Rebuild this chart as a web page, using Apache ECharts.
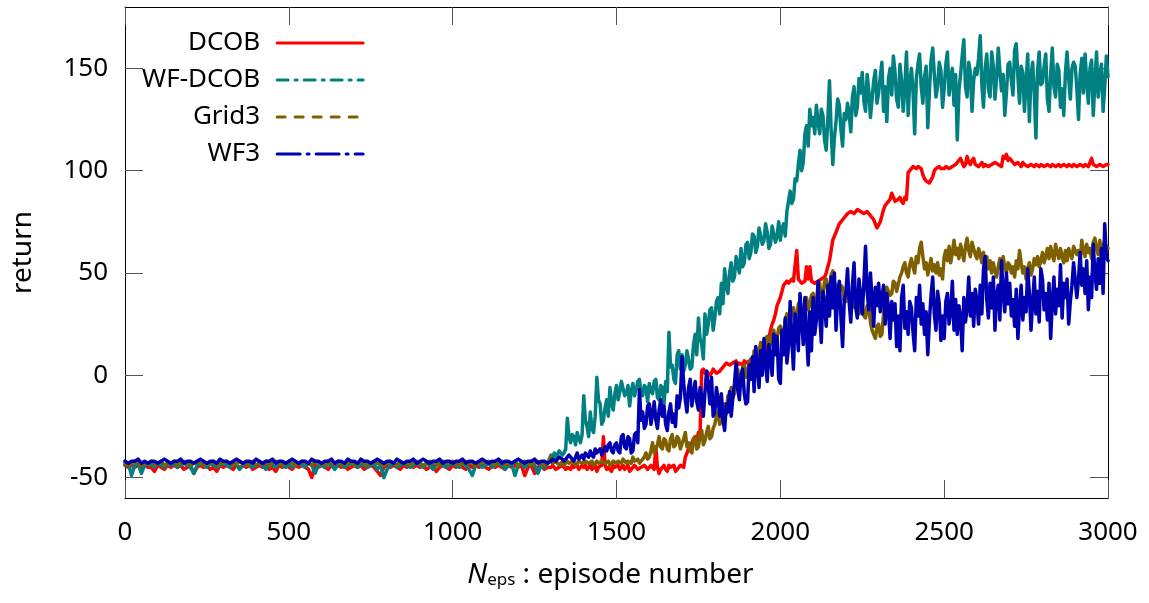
<!DOCTYPE html>
<html>
<head>
<meta charset="utf-8">
<script src="https://cdn.jsdelivr.net/npm/echarts@6/dist/echarts.min.js"></script>
<style>
  html, body { margin: 0; padding: 0; background: #fff; }
  #chart { width: 1149px; height: 603px; }
</style>
</head>
<body>
<div id="chart"></div>
<script>
// Sampling of the returns: every 10 episodes up to episode 1290,
// every 5 episodes from episode 1300 to 3000.
const EARLY_STEP = 10;
const LATE_START = 1300;
const LATE_STEP = 5;

const X_TICKS = [0, 500, 1000, 1500, 2000, 2500, 3000];
const Y_TICKS = [-50, 0, 50, 100, 150];

const SERIES_NAMES = ['DCOB', 'WF-DCOB', 'Grid3', 'WF3'];

// Return per episode, DCOB
const DCOB = [
  // 0 - 1290 (step 10)
  -44,-45,-44,-45,-44,-46,-44,-45,-45,-47,
  -44,-45,-46,-44,-45,-44,-45,-44,-46,-45,
  -44,-48,-45,-44,-45,-44,-46,-45,-47,-44,
  -45,-44,-45,-46,-44,-45,-44,-45,-44,-46,
  -45,-44,-45,-44,-46,-45,-47,-44,-45,-44,
  -45,-46,-44,-45,-44,-45,-46,-50,-44,-45,
  -44,-45,-46,-44,-45,-44,-45,-44,-46,-45,
  -44,-45,-44,-46,-45,-44,-45,-47,-49,-45,
  -44,-45,-44,-45,-46,-44,-45,-44,-45,-44,
  -45,-44,-46,-45,-44,-47,-45,-44,-45,-46,
  -44,-45,-44,-45,-46,-44,-45,-44,-45,-44,
  -45,-46,-44,-45,-44,-45,-46,-44,-45,-44,
  -45,-44,-49,-45,-44,-48,-45,-44,-46,-45,
  // 1300 - 3000 (step 5)
  -45,-44,-44,-46,-46,-45,-45,-44,-44,-46,-45,-45,-46,-44,-45,-45,-44,-46,-45,-44,
  -45,-44,-46,-45,-44,-46,-45,-44,-47,-45,-45,-44,-30,-44,-46,-45,-45,-47,-44,-45,
  -45,-44,-46,-45,-44,-46,-45,-44,-47,-46,-45,-44,-44,-46,-46,-45,-45,-44,-44,-46,
  -46,-44,-45,-46,-35,-45,-48,-46,-45,-44,-46,-47,-44,-45,-45,-44,-47,-46,-45,-44,
  -44,-45,-40,-38,-36,-35,-33,-31,-30,-32,-28,-29,2,3,1,2,2,0,1,3,
  2,1,1,2,3,4,5,6,6,5,5,6,6,7,5,6,6,5,7,6,
  6,7,7,6,2,1,1,2,3,5,8,10,14,18,22,25,27,30,34,36,
  38,41,44,45,46,45,45,47,46,46,61,47,46,45,45,46,53,47,53,46,
  46,45,45,46,46,47,47,48,50,53,56,61,66,68,70,72,74,75,76,77,
  78,79,79,80,80,79,79,81,81,80,80,79,79,80,80,78,78,76,74,72,
  72,75,78,81,83,84,85,86,89,87,85,85,86,87,85,84,87,86,99,100,
  101,102,102,101,102,102,101,98,96,95,95,94,94,97,100,101,101,102,101,101,
  101,102,102,101,101,102,102,103,103,105,106,104,102,103,107,104,103,105,106,103,
  103,102,103,104,102,103,103,102,102,103,103,104,104,103,103,102,107,106,108,105,
  106,105,104,103,103,104,103,102,104,103,103,102,102,103,103,102,103,103,102,103,
  103,102,102,103,103,102,103,103,102,102,103,102,102,103,103,102,103,103,102,103,
  103,102,102,103,103,102,103,103,102,104,106,103,103,102,102,103,103,102,102,103,
  103
];

// Return per episode, WF-DCOB
const WF_DCOB = [
  // 0 - 1290 (step 10)
  -44,-43,-49,-44,-43,-48,-44,-43,-44,-45,
  -43,-44,-45,-43,-44,-43,-45,-44,-43,-44,
  -45,-48,-44,-43,-44,-45,-43,-44,-45,-44,
  -43,-44,-45,-43,-44,-46,-44,-43,-44,-45,
  -44,-43,-44,-46,-43,-44,-45,-43,-44,-45,
  -43,-45,-44,-43,-44,-45,-43,-44,-48,-44,
  -44,-45,-43,-44,-46,-44,-43,-45,-44,-43,
  -44,-45,-43,-44,-45,-44,-43,-46,-44,-50,
  -46,-44,-43,-45,-44,-43,-44,-45,-44,-43,
  -44,-45,-43,-44,-46,-44,-43,-44,-45,-44,
  -43,-44,-45,-43,-44,-46,-49,-44,-43,-45,
  -44,-43,-45,-44,-43,-44,-46,-44,-43,-49,
  -44,-43,-45,-44,-43,-44,-48,-44,-45,-43,
  // 1300 - 3000 (step 5)
  -39,-41,-38,-40,-40,-37,-37,-39,-38,-36,-21,-30,-33,-29,-30,-34,-28,-31,-33,-29,
  -10,-22,-25,-30,-18,-26,-28,-20,-1,-12,-14,-24,-22,-16,-12,-20,-6,-14,-17,-9,
  -5,-12,-8,-3,-3,-10,-9,-5,-15,-8,-4,-10,-7,-3,-2,-9,-10,-5,-6,-13,
  -4,-8,-9,-3,-2,-11,-12,-5,-6,-14,-3,-8,21,4,5,-2,-4,10,12,3,
  10,2,5,12,12,3,4,15,20,10,28,18,15,8,30,20,25,32,33,22,
  28,36,38,30,45,35,52,44,40,50,55,46,48,58,58,50,62,53,55,64,
  65,57,60,69,68,60,63,72,72,64,66,74,70,62,64,73,73,65,68,75,
  66,72,74,68,80,85,90,84,86,96,95,103,110,100,104,118,122,112,130,122,
  126,118,132,124,118,130,127,115,110,125,144,120,103,116,124,135,132,120,112,128,
  125,133,128,119,136,141,127,131,145,138,148,134,129,147,139,126,135,144,149,133,
  138,146,153,129,141,124,145,150,137,156,148,135,131,152,144,129,141,158,127,143,
  150,139,118,145,152,157,141,133,146,151,121,139,154,160,147,136,141,153,149,131,
  140,152,158,137,145,150,132,147,115,139,147,156,164,141,136,153,148,129,144,150,
  147,155,166,142,131,150,157,140,136,158,151,135,145,160,149,139,147,127,138,152,
  153,144,137,159,162,146,133,151,148,129,143,157,124,146,153,138,116,149,158,142,
  143,151,157,135,129,147,160,141,136,152,149,131,140,127,148,158,145,135,150,153,
  151,140,125,147,155,138,157,144,133,150,154,127,143,158,136,147,152,129,141,156,
  146
];

// Return per episode, Grid3
const GRID3 = [
  // 0 - 1290 (step 10)
  -43,-44,-43,-42,-43,-44,-43,-43,-42,-44,
  -43,-42,-44,-43,-43,-42,-44,-43,-42,-43,
  -44,-43,-42,-43,-44,-43,-43,-42,-44,-43,
  -43,-42,-43,-44,-43,-42,-43,-44,-43,-42,
  -44,-43,-43,-42,-44,-43,-42,-43,-44,-43,
  -42,-43,-44,-43,-42,-43,-43,-44,-42,-43,
  -43,-44,-42,-43,-43,-42,-44,-43,-43,-42,
  -44,-43,-42,-43,-44,-43,-42,-43,-43,-44,
  -43,-42,-43,-44,-42,-43,-43,-44,-43,-42,
  -43,-44,-43,-42,-43,-43,-44,-42,-43,-43,
  -42,-43,-44,-43,-42,-43,-43,-44,-43,-42,
  -43,-42,-43,-44,-43,-42,-44,-43,-43,-42,
  -44,-43,-42,-43,-44,-43,-42,-43,-44,-43,
  // 1300 - 3000 (step 5)
  -40,-43,-43,-42,-42,-44,-43,-42,-44,-43,-42,-43,-43,-42,-42,-44,-43,-42,-42,-43,
  -43,-42,-42,-43,-43,-42,-44,-43,-42,-43,-43,-42,-42,-43,-43,-42,-44,-43,-42,-42,
  -43,-42,-42,-43,-41,-42,-43,-42,-42,-43,-40,-42,-42,-41,-43,-42,-41,-40,-38,-41,
  -40,-37,-33,-38,-38,-34,-30,-35,-36,-31,-32,-36,-37,-31,-29,-35,-34,-30,-31,-36,
  -36,-31,-28,-35,-33,-37,-38,-31,-30,-36,-35,-29,-27,-34,-32,-28,-25,-31,-30,-26,
  -24,-20,-18,-24,-22,-16,-14,-19,-10,-14,-6,-11,-9,-4,3,-4,-2,4,5,-1,
  2,6,8,3,12,8,6,12,16,10,12,18,19,13,15,20,22,16,18,23,
  24,19,20,27,30,24,26,32,33,27,29,35,36,29,31,37,38,32,34,39,
  40,34,35,43,45,38,39,46,47,41,42,49,51,45,44,38,38,44,43,37,
  36,41,40,34,33,39,38,31,30,36,35,29,28,34,33,26,22,20,18,24,
  25,19,20,30,38,43,43,39,40,46,45,41,41,48,50,53,55,50,48,54,
  57,53,50,58,55,62,65,58,52,55,49,53,57,51,54,50,55,49,52,47,
  58,61,56,63,55,60,66,59,62,57,64,60,56,63,67,61,58,65,62,59,
  57,62,59,55,60,54,58,52,56,50,55,51,48,53,57,52,58,53,50,55,
  54,50,53,48,56,52,61,55,50,53,47,52,55,49,52,57,54,58,53,56,
  60,55,58,62,57,63,59,56,64,60,57,62,58,55,61,56,62,59,57,63,
  63,59,61,56,66,61,58,64,60,62,57,65,67,62,59,66,61,64,59,63,
  62
];

// Return per episode, WF3
const WF3 = [
  // 0 - 1290 (step 10)
  -42,-43,-42,-42,-41,-43,-42,-43,-42,-42,
  -43,-42,-41,-42,-43,-42,-42,-41,-43,-42,
  -42,-43,-42,-41,-42,-43,-42,-42,-43,-41,
  -42,-42,-43,-42,-41,-42,-43,-42,-42,-43,
  -41,-42,-43,-42,-42,-41,-43,-42,-42,-43,
  -42,-41,-42,-43,-42,-42,-43,-41,-42,-42,
  -43,-42,-42,-41,-43,-42,-42,-43,-41,-42,
  -42,-43,-41,-42,-42,-43,-42,-41,-42,-43,
  -42,-42,-43,-41,-42,-43,-42,-42,-41,-43,
  -42,-41,-42,-43,-42,-42,-41,-43,-42,-42,
  -43,-42,-42,-41,-43,-42,-42,-43,-42,-41,
  -42,-43,-42,-42,-41,-43,-42,-42,-43,-42,
  -41,-42,-43,-42,-42,-41,-43,-42,-42,-43,
  // 1300 - 3000 (step 5)
  -42,-41,-41,-42,-42,-40,-40,-41,-42,-41,-41,-39,-39,-41,-42,-40,-38,-41,-40,-39,
  -41,-38,-39,-40,-37,-39,-40,-36,-38,-37,-36,-39,-39,-35,-37,-34,-33,-37,-38,-34,
  -33,-37,-38,-30,-29,-35,-36,-30,-31,-38,-37,-29,-28,-33,-7,-22,-18,-26,-24,-15,
  -14,-24,-19,-13,-22,-26,-17,-12,-20,-15,-24,-27,-18,-14,-23,-19,-25,-10,-16,-11,
  9,-4,-12,-18,-6,-2,-15,-9,-3,-13,-17,-6,-10,-20,-8,2,-5,-14,-1,-20,
  -18,-6,-12,-20,-9,-22,-27,-14,-18,-8,-20,-11,-4,6,-7,-12,0,3,-9,-14,
  -13,5,-2,9,-8,14,4,-6,12,0,18,6,-3,15,8,0,20,10,19,-2,
  -4,22,10,28,6,14,36,18,3,30,25,12,40,27,15,38,20,5,31,12,
  38,20,27,46,30,16,41,35,24,44,29,48,33,50,22,40,46,28,14,37,
  40,52,36,26,44,55,33,28,47,39,30,45,63,41,32,50,37,24,43,34,
  45,31,38,44,25,40,33,18,36,27,35,14,29,12,38,44,23,31,20,36,
  33,21,12,38,29,44,25,35,20,31,10,27,39,48,30,22,41,35,17,29,
  18,36,40,25,31,46,22,37,20,34,28,12,38,26,33,48,29,40,24,42,
  36,25,44,30,52,58,37,28,45,33,48,22,39,44,27,56,40,31,50,35,
  45,29,37,24,42,18,33,44,27,38,31,52,40,22,36,48,30,41,26,52,
  47,32,40,27,45,18,36,48,30,42,34,54,28,45,38,47,25,36,44,55,
  55,38,47,60,44,52,40,56,32,48,38,64,50,42,57,45,62,40,74,58,
  56
];

const FONT = 'Noto Sans';
const TEXT = '#000000';
const TICK = '#555555';
const EARLY_COUNT = LATE_START / EARLY_STEP;

function episodeAt(i) {
  return i < EARLY_COUNT ? i * EARLY_STEP : LATE_START + (i - EARLY_COUNT) * LATE_STEP;
}

function toPoints(values) {
  return values.map((v, i) => [episodeAt(i), v]);
}

const styles = [
  { color: '#ff0000', dash: 'solid' },
  { color: '#008080', dash: [11, 7, 2, 7] },
  { color: '#7f6000', dash: [8, 10] },
  { color: '#0000b0', dash: [23, 7, 2, 7] }
];
const values = [DCOB, WF_DCOB, GRID3, WF3];

const series = SERIES_NAMES.map((name, k) => ({
  name: name,
  type: 'line',
  xAxisIndex: 0,
  yAxisIndex: 0,
  data: toPoints(values[k]),
  symbol: 'none',
  showSymbol: false,
  silent: true,
  animation: false,
  itemStyle: { color: styles[k].color },
  lineStyle: {
    color: styles[k].color,
    width: 3.5,
    type: 'solid',
    cap: 'round',
    join: 'round'
  }
}));

const frameLine = { show: true, onZero: false, lineStyle: { color: '#000', width: 1 } };
const innerTick = { show: true, inside: true, length: 18, lineStyle: { color: TICK, width: 1 } };

const option = {
  backgroundColor: '#ffffff',
  animation: false,
  grid: { left: 125, right: 41, top: 7, bottom: 105, containLabel: false },
  legend: {
    orient: 'vertical',
    left: 142,
    top: 28,
    align: 'right',
    padding: 0,
    itemWidth: 86,
    itemHeight: 14,
    itemGap: 7,
    selectedMode: false,
    itemStyle: { color: 'rgba(0,0,0,0)', borderColor: 'rgba(0,0,0,0)', borderWidth: 0 },
    textStyle: { fontFamily: FONT, fontSize: 26, color: TEXT, lineHeight: 30, padding: [0, 12, 0, 0] },
    data: SERIES_NAMES.map((name, k) => ({
      name: name,
      lineStyle: { color: styles[k].color, width: 3, type: styles[k].dash, cap: 'round' }
    }))
  },
  xAxis: [
    {
      type: 'value',
      position: 'bottom',
      min: 0,
      max: 3000,
      interval: 500,
      axisLine: frameLine,
      axisTick: innerTick,
      splitLine: { show: false },
      axisLabel: {
        margin: 22,
        fontFamily: FONT,
        fontSize: 26,
        color: TEXT,
        customValues: X_TICKS,
        formatter: v => String(v)
      },
      name: '{n|N}{s|eps}{t| : episode number}',
      nameLocation: 'middle',
      nameGap: 63,
      nameTextStyle: {
        color: TEXT,
        fontFamily: FONT,
        padding: [0, 12, 0, 0],
        rich: {
          n: { fontFamily: FONT, fontSize: 28, fontStyle: 'italic', color: TEXT },
          s: { fontFamily: FONT, fontSize: 17, color: TEXT, verticalAlign: 'bottom' },
          t: { fontFamily: FONT, fontSize: 28, color: TEXT }
        }
      }
    },
    {
      type: 'value',
      position: 'top',
      min: 0,
      max: 3000,
      interval: 500,
      axisLine: frameLine,
      axisTick: innerTick,
      axisLabel: { show: false },
      splitLine: { show: false }
    }
  ],
  yAxis: [
    {
      type: 'value',
      position: 'left',
      min: -60,
      max: 180,
      axisLine: frameLine,
      axisTick: Object.assign({}, innerTick, { customValues: Y_TICKS }),
      splitLine: { show: false },
      axisLabel: {
        margin: 17,
        fontFamily: FONT,
        fontSize: 26,
        color: TEXT,
        customValues: Y_TICKS,
        formatter: v => String(v)
      },
      name: 'return',
      nameLocation: 'middle',
      nameRotate: 90,
      nameGap: 88,
      nameTextStyle: { fontFamily: FONT, fontSize: 28, color: TEXT }
    },
    {
      type: 'value',
      position: 'right',
      min: -60,
      max: 180,
      axisLine: frameLine,
      axisTick: Object.assign({}, innerTick, { customValues: Y_TICKS }),
      axisLabel: { show: false },
      splitLine: { show: false }
    }
  ],
  series: series
};

const chart = echarts.init(document.getElementById('chart'), null, { renderer: 'canvas' });
chart.setOption(option);
</script>
</body>
</html>
